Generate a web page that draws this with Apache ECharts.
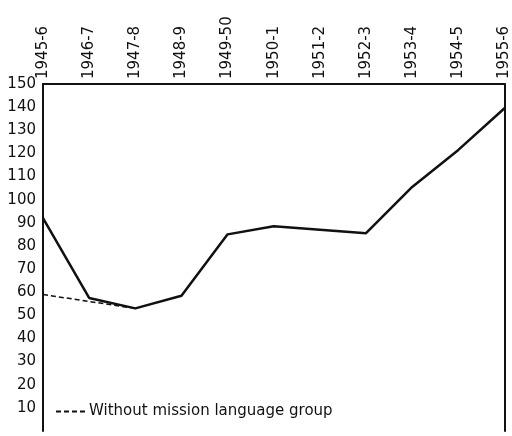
<!DOCTYPE html>
<html>
<head>
<meta charset="utf-8">
<script src="https://cdn.jsdelivr.net/npm/echarts@6/dist/echarts.min.js"></script>
<style>
  html, body { margin: 0; padding: 0; background: #fff; }
  #chart { width: 512px; height: 436px; }
</style>
</head>
<body>
<div id="chart"></div>
<script>
// school years (top axis)
var years = ["1945-6", "1946-7", "1947-8", "1948-9", "1949-50", "1950-1",
  "1951-2", "1952-3", "1953-4", "1954-5", "1955-6"];
// main index line
var total = [92, 57.5, 53, 58.5, 85, 88.5, 87, 85.5, 105.5, 121.5, 139.5];
// without mission language group (only first three years)
var withoutMission = [59, 56, 53, null, null, null, null, null, null, null, null];

var chart = echarts.init(document.getElementById("chart"));
var font = "DejaVu Sans";

var option = {
  backgroundColor: "#fff",
  animation: false,
  grid: { left: 43, right: 6, top: 84, bottom: 5 },
  legend: {
    data: ["Without mission language group"],
    left: 50,
    top: 399,
    itemWidth: 30,
    itemHeight: 10,
    itemGap: 4,
    itemStyle: { opacity: 0 },
    textStyle: { fontFamily: font, fontSize: 15, color: "#111", padding: [0, 0, 0, -2] }
  },
  xAxis: {
    type: "category",
    position: "top",
    boundaryGap: false,
    data: years,
    axisLine: { onZero: false, lineStyle: { color: "#111", width: 2 } },
    axisTick: { show: false },
    axisLabel: {
      rotate: -90,
      margin: 5,
      fontFamily: font,
      fontSize: 15,
      color: "#111"
    },
    splitLine: { show: false }
  },
  yAxis: [
    {
      type: "value",
      min: 0,
      max: 150,
      interval: 10,
      axisLine: { show: true, lineStyle: { color: "#111", width: 2 } },
      axisTick: { show: false },
      splitLine: { show: false },
      axisLabel: {
        margin: 7,
        fontFamily: font,
        fontSize: 15,
        color: "#111",
        formatter: function (v) { return v === 0 ? "" : v; }
      }
    },
    {
      type: "value",
      position: "right",
      min: 0,
      max: 150,
      interval: 10,
      axisLine: { show: true, lineStyle: { color: "#111", width: 2 } },
      axisTick: { show: false },
      axisLabel: { show: false },
      splitLine: { show: false }
    }
  ],
  series: [
    {
      name: "Total",
      type: "line",
      data: total,
      symbol: "none",
      lineStyle: { color: "#111", width: 2.5 },
      itemStyle: { color: "#111" }
    },
    {
      name: "Without mission language group",
      type: "line",
      data: withoutMission,
      symbol: "none",
      lineStyle: { color: "#111", width: 1.5, type: [5, 3] },
      itemStyle: { color: "#111" }
    }
  ]
};

chart.setOption(option);
</script>
</body>
</html>
